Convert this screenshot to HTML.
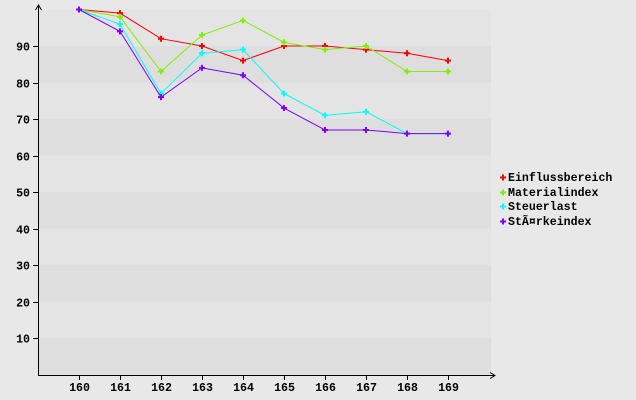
<!DOCTYPE html>
<html><head><meta charset="utf-8"><style>
body{margin:0;background:#e8e8e8}
svg{display:block}
text{font-family:"Liberation Mono","DejaVu Sans Mono",monospace;font-weight:bold;font-size:11.6px;fill:#000}
</style></head><body>
<svg width="636" height="400" viewBox="0 0 636 400">
<rect width="636" height="400" fill="#e8e8e8"/>
<g id="bands"></g>
<g stroke="#000" stroke-width="1" fill="none">
<line x1="38.5" y1="6" x2="38.5" y2="375"/>
<line x1="38" y1="375.5" x2="495" y2="375.5"/>
<path d="M35.5 10 L38.5 5 L41.5 10"/>
<path d="M490 372.5 L495 375.5 L490 378.5"/>
</g>
<g id="ticks"></g>
<g id="series"></g>
<g>
<path d="M500 177.5h6M503 174.5v6" stroke="#f00" stroke-width="2"/>
<text x="508" y="181">Einflussbereich</text>
<path d="M500 192.5h6M503 189.5v6" stroke="#80f000" stroke-width="2"/>
<text x="508" y="196">Materialindex</text>
<path d="M500 206.5h6M503 203.5v6" stroke="#00ffff" stroke-width="2"/>
<text x="508" y="210">Steuerlast</text>
<path d="M500 221.5h6M503 218.5v6" stroke="#8000ff" stroke-width="2"/>
<text x="508" y="225">StÃ¤rkeindex</text>
</g>
</svg>
<script>
const ns="http://www.w3.org/2000/svg";
function el(p,t,a,tx){const e=document.createElementNS(ns,t);for(const k in a)e.setAttribute(k,a[k]);if(tx)e.textContent=tx;document.getElementById(p).appendChild(e);}
const Y=v=>374.5-v*3.65, X=i=>79+i*41;
for(let k=0;k<10;k++){el("bands","rect",{x:39,y:Y((k+1)*10),width:452,height:36.5,fill:k%2==0?"#dedede":"#e4e4e4"});}
for(let k=1;k<=9;k++){const y=Math.round(Y(k*10))+0.5;el("ticks","line",{x1:33,x2:38,y1:y,y2:y,stroke:"#000"});el("ticks","text",{x:30,y:y+4,"text-anchor":"end"},String(k*10));}
for(let i=0;i<10;i++){const x=X(i)+0.5;el("ticks","line",{x1:x,x2:x,y1:375,y2:380,stroke:"#000"});el("ticks","text",{x:x,y:391,"text-anchor":"middle"},String(160+i));}
const S=[["#f00",[100,99,92,90,86,90,90,89,88,86]],["#80f000",[100,98,83,93,97,91,89,90,83,83]],["#00ffff",[100,96,77,88,89,77,71,72,66,66]],["#8000ff",[100,94,76,84,82,73,67,67,66,66]]];
S.forEach(([c,d])=>{el("series","polyline",{points:d.map((v,i)=>X(i)+","+Y(v)).join(" "),fill:"none",stroke:c,"stroke-width":1});
d.forEach((v,i)=>{const x=X(i),y=Y(v);el("series","path",{d:`M${x-3} ${y}h6M${x} ${y-3}v6`,stroke:c,"stroke-width":2});});});
</script>
</body></html>
